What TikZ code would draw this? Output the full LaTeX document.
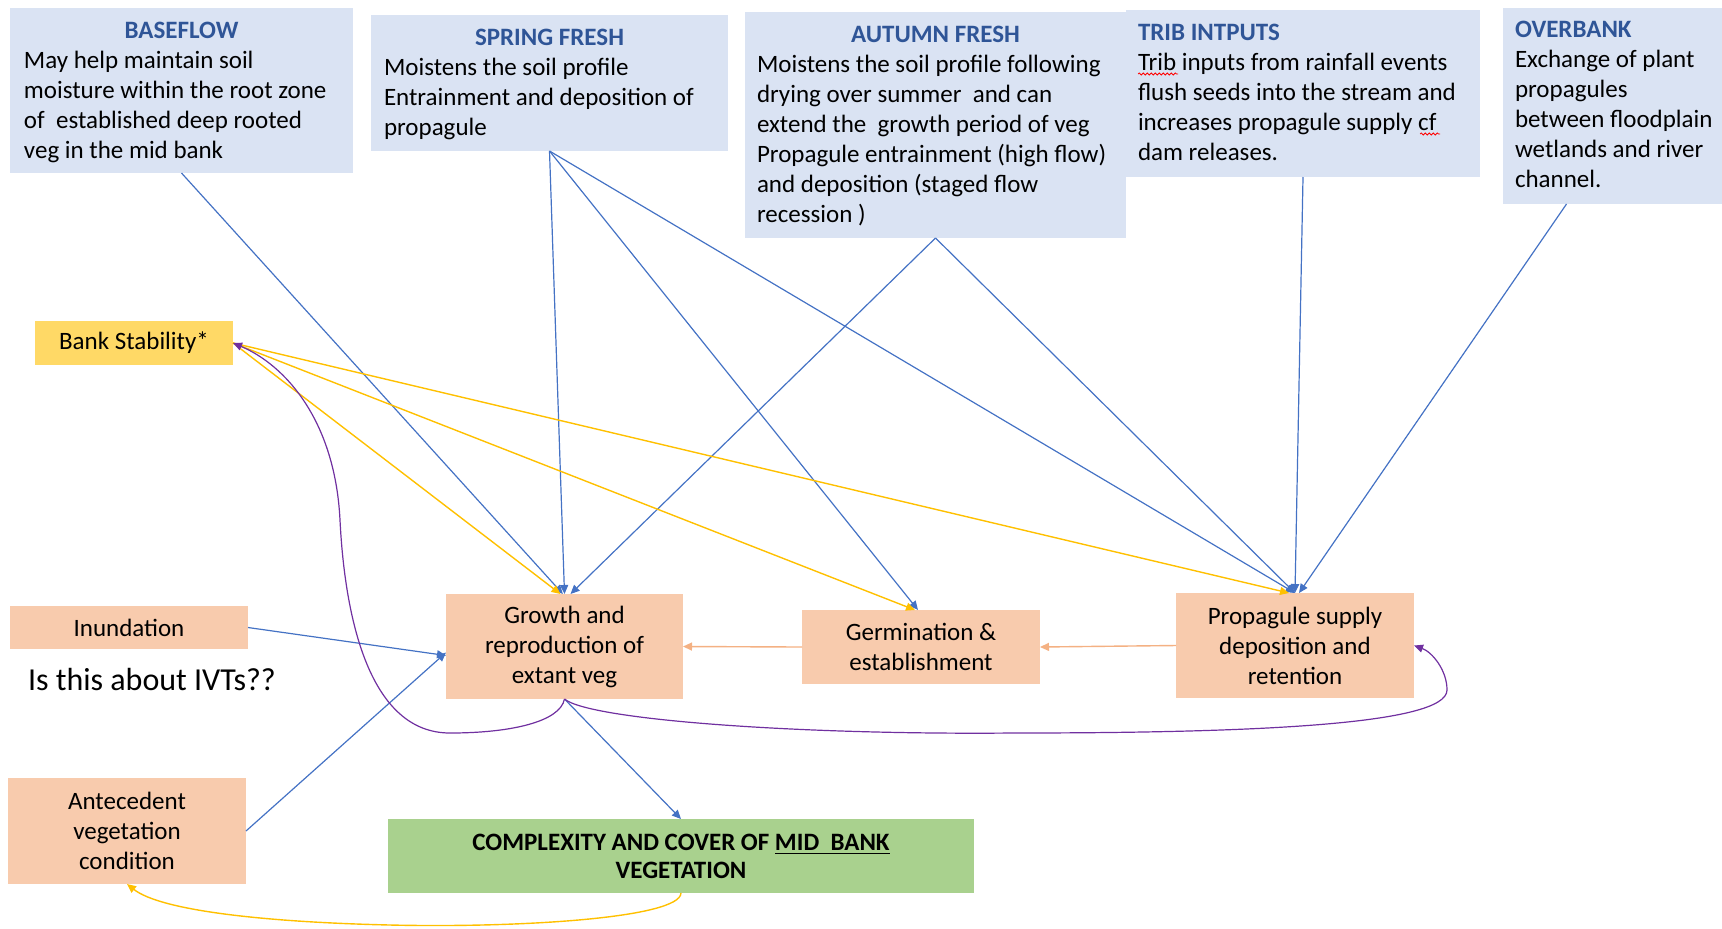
\documentclass[tikz,border=0pt]{standalone}
\usepackage{fontspec}
\setmainfont{Carlito}
\usetikzlibrary{arrows.meta,calc,decorations.pathmorphing}
\definecolor{boxblue}{HTML}{DAE3F3}
\definecolor{boxorange}{HTML}{F8CBAD}
\definecolor{boxyellow}{HTML}{FFD966}
\definecolor{boxgreen}{HTML}{A9D18E}
\definecolor{titleblue}{HTML}{2F5597}
\definecolor{lineblue}{HTML}{4472C4}
\definecolor{lineyellow}{HTML}{FFC000}
\definecolor{linepurple}{HTML}{7030A0}
\definecolor{lineorange}{HTML}{F4B183}
\begin{document}
\begin{tikzpicture}[x=0.5pt,y=-0.5pt,
  every node/.style={font=\fontsize{12.5}{15}\selectfont, inner sep=0pt, outer sep=0pt},
  panel/.style={anchor=north west, fill=boxblue},
  obox/.style={anchor=north west, fill=boxorange, align=center},
  ttl/.style={font=\fontsize{12.5}{15}\selectfont\bfseries, text=titleblue},
  tip/.style={-{Triangle[length=4.5pt,width=4pt]}},
  bluearrow/.style={tip, draw=lineblue, line width=0.6pt},
  yellowarrow/.style={tip, draw=lineyellow, line width=0.7pt},
  purplearrow/.style={tip, draw=linepurple, line width=0.6pt},
  orangearrow/.style={tip, draw=lineorange, line width=0.7pt},
  squiggle/.style={draw=red, line width=0.4pt, decorate, decoration={snake, amplitude=0.5pt, segment length=2pt}}
]
\useasboundingbox (0,0) rectangle (1722,928);

% top panels
\node[panel, minimum width=171.5pt, minimum height=82.5pt] (baseflow) at (10,8) {};
\node[panel, minimum width=178.5pt, minimum height=68pt] (spring) at (371,15) {};
\node[panel, minimum width=177pt, minimum height=83.5pt] (trib) at (1126,10) {};
\node[panel, minimum width=190.5pt, minimum height=113pt] (autumn) at (745,12) {};
\node[panel, minimum width=109.5pt, minimum height=98pt] (overbank) at (1503,8) {};

\node[ttl, anchor=base] (baseflowT) at ($(baseflow.north)+(0,30)$) {BASEFLOW};
\node[anchor=base west] (baseflowB) at ($(baseflow.north west)+(14,60)$) {\begin{tabular}[t]{@{}l@{}}May help maintain soil\\ moisture within the root zone\\ of~ established deep rooted\\ veg in the mid bank\end{tabular}};

\node[ttl, anchor=base] (springT) at ($(spring.north)+(0,30)$) {SPRING FRESH};
\node[anchor=base west] (springB) at ($(spring.north west)+(13,60)$) {\begin{tabular}[t]{@{}l@{}}Moistens the soil profile\\ Entrainment and deposition of\\ propagule\end{tabular}};

\node[ttl, anchor=base] (autumnT) at ($(autumn.north)+(0,30)$) {AUTUMN FRESH};
\node[anchor=base west] (autumnB) at ($(autumn.north west)+(12,60)$) {\begin{tabular}[t]{@{}l@{}}Moistens the soil profile following\\ drying over summer~ and can\\ extend the~ growth period of veg\\ Propagule entrainment (high flow)\\ and deposition (staged flow\\ recession )\end{tabular}};

\node[ttl, anchor=base west] (tribT) at ($(trib.north west)+(12,30)$) {TRIB INTPUTS};
\node[anchor=base west] (tribB) at ($(trib.north west)+(12,60)$) {\begin{tabular}[t]{@{}l@{}}Trib inputs from rainfall events\\ flush seeds into the stream and\\ increases propagule supply cf\\ dam releases.\end{tabular}};
\draw[squiggle] (1138,74) -- (1178,74);
\draw[squiggle] (1420,134) -- (1440,134);

\node[ttl, anchor=base west] (overbankT) at ($(overbank.north west)+(12,29)$) {OVERBANK};
\node[anchor=base west] (overbankB) at ($(overbank.north west)+(12,59)$) {\begin{tabular}[t]{@{}l@{}}Exchange of plant\\ propagules\\ between floodplain\\ wetlands and river\\ channel.\end{tabular}};

% other boxes
\node[anchor=north west, fill=boxyellow, minimum width=99pt, minimum height=22pt] (bank) at (35,321) {Bank Stability*};
\node[obox, minimum width=119pt, minimum height=21.5pt] (inund) at (10,606) {Inundation};
\node[anchor=base west, font=\fontsize{16}{19}\selectfont] (ivt) at (28,690) {Is this about IVTs??};
\node[obox, minimum width=118.5pt, minimum height=52.5pt] (growth) at (446,594) {Growth and\\ reproduction of\\ extant veg};
\node[obox, minimum width=119pt, minimum height=37pt] (germ) at (802,610) {Germination \&\\ establishment};
\node[obox, minimum width=119pt, minimum height=52.5pt] (prop) at (1176,593) {Propagule supply\\ deposition and\\ retention};
\node[obox, minimum width=119pt, minimum height=53pt] (ante) at (8,778) {Antecedent\\ vegetation\\ condition};
\node[anchor=north west, fill=boxgreen, align=center, minimum width=293pt, minimum height=37pt, font=\fontsize{12.5}{14}\selectfont\bfseries] (compl) at (388,819) {COMPLEXITY AND COVER OF \underline{MID~~BANK}\\ VEGETATION};

% blue connectors
\draw[bluearrow] (baseflow.south) -- ([xshift=-0.8pt]growth.north);
\draw[bluearrow] (spring.south) -- (growth.north);
\draw[bluearrow] (autumn.south) -- ([xshift=3pt]growth.north);
\draw[bluearrow] (spring.south) -- ([xshift=-1.5pt]germ.north);
\draw[bluearrow] (spring.south) -- (prop.north);
\draw[bluearrow] (autumn.south) -- (prop.north);
\draw[bluearrow] (trib.south) -- (prop.north);
\draw[bluearrow] ([xshift=-23pt]overbank.south) -- ([xshift=2pt]prop.north);
\draw[bluearrow] (inund.east) -- ([yshift=-4.5pt]growth.west);
\draw[bluearrow] (ante.east) -- ([yshift=-3pt]growth.west);
\draw[bluearrow] (growth.south) -- (compl.north);

% yellow connectors
\draw[yellowarrow] (bank.east) -- ([xshift=-2pt]growth.north);
\draw[yellowarrow] (bank.east) -- ([xshift=-3pt]germ.north);
\draw[yellowarrow] (bank.east) -- ([xshift=-3pt]prop.north);

% orange connectors
\draw[orangearrow] (germ.west) -- (growth.east);
\draw[orangearrow] (prop.west) -- (germ.east);

% purple curves
\draw[purplearrow] (growth.south) .. controls (560,722) and (510,733) .. (450,733)
  .. controls (370,733) and (345,620) .. (340,520)
  .. controls (335,420) and (285,365) .. (bank.east);
\draw[purplearrow] (growth.south) .. controls (590,720) and (800,735) .. (1013,733)
  .. controls (1250,733) and (1447,725) .. (1447,690)
  .. controls (1447,670) and (1432,652) .. (prop.east);

% yellow curve
\draw[yellowarrow] (compl.south) .. controls (680,918) and (520,928) .. (390,925)
  .. controls (260,922) and (160,910) .. (ante.south);
\end{tikzpicture}
\end{document}
